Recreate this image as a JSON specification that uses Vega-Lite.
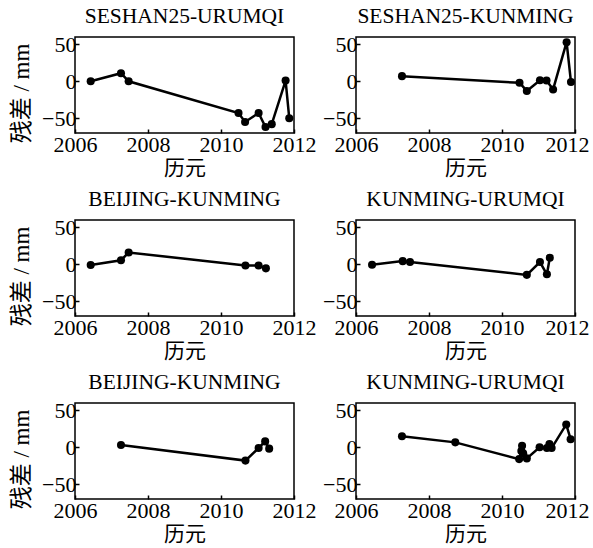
{
  "$schema": "https://vega.github.io/schema/vega-lite/v6.json",
  "background": "white",
  "padding": {"left": 9, "top": 5, "right": 0, "bottom": 5},
  "config": {
    "font": "Liberation Serif, Noto Sans CJK SC",
    "view": {"stroke": "black", "strokeWidth": 1.5},
    "axis": {"grid": false, "domain": false, "tickColor": "black", "tickSize": -4, "tickWidth": 1.5, "labelColor": "black", "labelFontSize": 22, "titleFontSize": 21, "titleFontWeight": "normal", "titleColor": "black", "labelPadding": 3, "labelFlush": false},
    "axisX": {"titlePadding": 2, "labelPadding": 5},
    "axisY": {"titlePadding": 8, "titleY": 56, "titleFontSize": 23},
    "title": {"fontSize": 21.5, "fontWeight": "normal", "color": "black", "offset": 6}
  },
  "datasets": {
    "d": [
      {"p": "p1", "t": 2006.43, "r": 0},
      {"p": "p1", "t": 2007.26, "r": 11},
      {"p": "p1", "t": 2007.47, "r": 0},
      {"p": "p1", "t": 2010.48, "r": -43},
      {"p": "p1", "t": 2010.66, "r": -55},
      {"p": "p1", "t": 2011.03, "r": -43},
      {"p": "p1", "t": 2011.22, "r": -62},
      {"p": "p1", "t": 2011.39, "r": -58},
      {"p": "p1", "t": 2011.77, "r": 1},
      {"p": "p1", "t": 2011.87, "r": -50},
      {"p": "p2", "t": 2007.26, "r": 7},
      {"p": "p2", "t": 2010.48, "r": -2},
      {"p": "p2", "t": 2010.68, "r": -13},
      {"p": "p2", "t": 2011.04, "r": 1.5},
      {"p": "p2", "t": 2011.22, "r": 1},
      {"p": "p2", "t": 2011.4, "r": -11},
      {"p": "p2", "t": 2011.77, "r": 53},
      {"p": "p2", "t": 2011.89, "r": -1},
      {"p": "p3", "t": 2006.43, "r": -1},
      {"p": "p3", "t": 2007.26, "r": 5.5},
      {"p": "p3", "t": 2007.47, "r": 16},
      {"p": "p3", "t": 2010.67, "r": -1.5},
      {"p": "p3", "t": 2011.03, "r": -1.5},
      {"p": "p3", "t": 2011.23, "r": -5.5},
      {"p": "p4", "t": 2006.44, "r": -0.5},
      {"p": "p4", "t": 2007.28, "r": 4.3},
      {"p": "p4", "t": 2007.48, "r": 3},
      {"p": "p4", "t": 2010.68, "r": -14.3},
      {"p": "p4", "t": 2011.04, "r": 3},
      {"p": "p4", "t": 2011.23, "r": -13.5},
      {"p": "p4", "t": 2011.31, "r": 9},
      {"p": "p5", "t": 2007.26, "r": 3},
      {"p": "p5", "t": 2010.67, "r": -18},
      {"p": "p5", "t": 2011.03, "r": -1},
      {"p": "p5", "t": 2011.21, "r": 8},
      {"p": "p5", "t": 2011.32, "r": -1.8},
      {"p": "p6", "t": 2007.26, "r": 15},
      {"p": "p6", "t": 2008.72, "r": 6.7},
      {"p": "p6", "t": 2010.47, "r": -16},
      {"p": "p6", "t": 2010.53, "r": -5},
      {"p": "p6", "t": 2010.55, "r": 2},
      {"p": "p6", "t": 2010.58, "r": -8},
      {"p": "p6", "t": 2010.68, "r": -15},
      {"p": "p6", "t": 2011.03, "r": 0},
      {"p": "p6", "t": 2011.23, "r": -1},
      {"p": "p6", "t": 2011.3, "r": 4.5},
      {"p": "p6", "t": 2011.36, "r": -1},
      {"p": "p6", "t": 2011.76, "r": 31},
      {"p": "p6", "t": 2011.88, "r": 11}
    ]
  },
  "bounds": "flush",
  "columns": 2,
  "spacing": {"row": 87, "column": 62},
  "concat": [
    {
      "title": "SESHAN25-URUMQI", "width": 219, "height": 96,
      "data": {"name": "d"}, "transform": [{"filter": "datum.p == 'p1'"}],
      "mark": {"type": "line", "color": "black", "strokeWidth": 2.5, "point": {"filled": true, "size": 65, "color": "black"}},
      "encoding": {
        "x": {"field": "t", "type": "quantitative", "scale": {"domain": [2006, 2012]}, "axis": {"values": [2006, 2008, 2010, 2012], "format": "d", "title": "历元"}},
        "y": {"field": "r", "type": "quantitative", "scale": {"domain": [-70, 60]}, "axis": {"values": [-50, 0, 50], "title": "残差 / mm"}}
      }
    },
    {
      "title": "SESHAN25-KUNMING", "width": 219, "height": 96,
      "data": {"name": "d"}, "transform": [{"filter": "datum.p == 'p2'"}],
      "mark": {"type": "line", "color": "black", "strokeWidth": 2.5, "point": {"filled": true, "size": 65, "color": "black"}},
      "encoding": {
        "x": {"field": "t", "type": "quantitative", "scale": {"domain": [2006, 2012]}, "axis": {"values": [2006, 2008, 2010, 2012], "format": "d", "title": "历元", "labelOffset": {"condition": {"test": "datum.value == 2012", "value": -8}, "value": 0}}},
        "y": {"field": "r", "type": "quantitative", "scale": {"domain": [-70, 60]}, "axis": {"values": [-50, 0, 50], "title": null}}
      }
    },
    {
      "title": "BEIJING-KUNMING", "width": 219, "height": 96,
      "data": {"name": "d"}, "transform": [{"filter": "datum.p == 'p3'"}],
      "mark": {"type": "line", "color": "black", "strokeWidth": 2.5, "point": {"filled": true, "size": 65, "color": "black"}},
      "encoding": {
        "x": {"field": "t", "type": "quantitative", "scale": {"domain": [2006, 2012]}, "axis": {"values": [2006, 2008, 2010, 2012], "format": "d", "title": "历元"}},
        "y": {"field": "r", "type": "quantitative", "scale": {"domain": [-70, 60]}, "axis": {"values": [-50, 0, 50], "title": "残差 / mm"}}
      }
    },
    {
      "title": "KUNMING-URUMQI", "width": 219, "height": 96,
      "data": {"name": "d"}, "transform": [{"filter": "datum.p == 'p4'"}],
      "mark": {"type": "line", "color": "black", "strokeWidth": 2.5, "point": {"filled": true, "size": 65, "color": "black"}},
      "encoding": {
        "x": {"field": "t", "type": "quantitative", "scale": {"domain": [2006, 2012]}, "axis": {"values": [2006, 2008, 2010, 2012], "format": "d", "title": "历元", "labelOffset": {"condition": {"test": "datum.value == 2012", "value": -8}, "value": 0}}},
        "y": {"field": "r", "type": "quantitative", "scale": {"domain": [-70, 60]}, "axis": {"values": [-50, 0, 50], "title": null}}
      }
    },
    {
      "title": "BEIJING-KUNMING", "width": 219, "height": 96,
      "data": {"name": "d"}, "transform": [{"filter": "datum.p == 'p5'"}],
      "mark": {"type": "line", "color": "black", "strokeWidth": 2.5, "point": {"filled": true, "size": 65, "color": "black"}},
      "encoding": {
        "x": {"field": "t", "type": "quantitative", "scale": {"domain": [2006, 2012]}, "axis": {"values": [2006, 2008, 2010, 2012], "format": "d", "title": "历元"}},
        "y": {"field": "r", "type": "quantitative", "scale": {"domain": [-70, 60]}, "axis": {"values": [-50, 0, 50], "title": "残差 / mm"}}
      }
    },
    {
      "title": "KUNMING-URUMQI", "width": 219, "height": 96,
      "data": {"name": "d"}, "transform": [{"filter": "datum.p == 'p6'"}],
      "mark": {"type": "line", "color": "black", "strokeWidth": 2.5, "point": {"filled": true, "size": 65, "color": "black"}},
      "encoding": {
        "x": {"field": "t", "type": "quantitative", "scale": {"domain": [2006, 2012]}, "axis": {"values": [2006, 2008, 2010, 2012], "format": "d", "title": "历元", "labelOffset": {"condition": {"test": "datum.value == 2012", "value": -8}, "value": 0}}},
        "y": {"field": "r", "type": "quantitative", "scale": {"domain": [-70, 60]}, "axis": {"values": [-50, 0, 50], "title": null}}
      }
    }
  ]
}
